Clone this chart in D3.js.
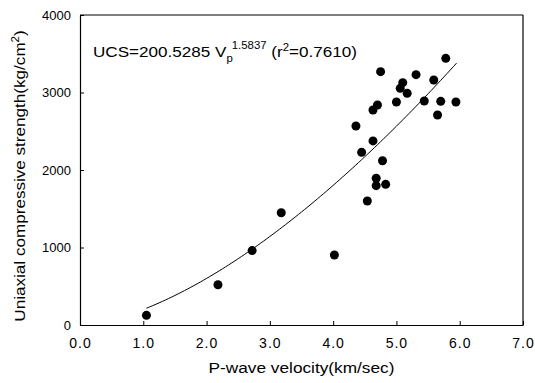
<!DOCTYPE html>
<html>
<head>
<meta charset="utf-8">
<script src="https://cdn.jsdelivr.net/npm/d3@7"></script>
<style>
  body { margin: 0; background: #fff; }
  svg text { font-family: "Liberation Sans", Arial, sans-serif; fill: #000; }
</style>
</head>
<body>
<svg id="chart"></svg>
<script>
// P-wave velocity (km/sec) and UCS (kg/cm2)
var velocity = [1.05, 2.18, 2.72, 3.18, 4.02, 4.54,
                5.78, 4.75, 5.31, 5.59, 5.10, 5.06, 5.17, 5.00, 5.44, 5.70, 5.94, 5.65,
                4.70, 4.63, 4.36, 4.63, 4.45, 4.78, 4.68, 4.68, 4.83]
var strength = [125, 520, 960, 1449, 903, 1600,
                3441, 3269, 3230, 3161, 3127, 3054, 2989, 2877, 2890, 2886, 2877, 2710,
                2839, 2774, 2568, 2375, 2228, 2120, 1893, 1798, 1815]

var xTicks = [0, 1, 2, 3, 4, 5, 6, 7]
var yTicks = [0, 1000, 2000, 3000, 4000]

// fitted curve UCS = a * Vp^b
var coefA = 200.5285
var coefB = 1.5837
var fitRange = [1.05, 5.95]

var dimensions = {
    width: 535,
    height: 383,
    margin: { top: 15, bottom: 58, right: 12, left: 80 }
}
dimensions.boundedWidth = dimensions.width - dimensions.margin.left - dimensions.margin.right
dimensions.boundedHeight = dimensions.height - dimensions.margin.top - dimensions.margin.bottom

var svg = d3.select("#chart")
    .attr("width", dimensions.width)
    .attr("height", dimensions.height)

var g = svg.append("g")
    .attr("transform", "translate(" + dimensions.margin.left + "," + dimensions.margin.top + ")")

var xScale = d3.scaleLinear()
    .domain([0, 7])
    .range([0, dimensions.boundedWidth])

var yScale = d3.scaleLinear()
    .domain([0, 4000])
    .range([dimensions.boundedHeight, 0])

// axes with inward ticks
var xAxis = g.append("g")
    .attr("transform", "translate(0," + dimensions.boundedHeight + ")")
    .call(d3.axisBottom(xScale).tickValues(xTicks).tickSizeInner(-4).tickSizeOuter(0)
        .tickPadding(10).tickFormat(d3.format(".1f")))
var yAxis = g.append("g")
    .call(d3.axisLeft(yScale).tickValues(yTicks).tickSizeInner(-4).tickSizeOuter(0)
        .tickPadding(9).tickFormat(d3.format("d")))

g.selectAll(".domain").attr("stroke", "#000").attr("stroke-width", 1.2)
g.selectAll(".tick line").attr("stroke", "#000").attr("stroke-width", 1)
g.selectAll(".tick text").style("font-size", "13px").attr("fill", "#000")
xAxis.selectAll(".tick text")
    .attr("dy", "0.9em")
    .style("font-size", "14px")
    .style("letter-spacing", "1px")

// frame top and right
g.append("line")
    .attr("x1", 0).attr("x2", dimensions.boundedWidth)
    .attr("y1", 0).attr("y2", 0)
    .attr("stroke", "#000").attr("stroke-width", 1.2)
g.append("line")
    .attr("x1", dimensions.boundedWidth).attr("x2", dimensions.boundedWidth)
    .attr("y1", 0).attr("y2", dimensions.boundedHeight)
    .attr("stroke", "#000").attr("stroke-width", 1.2)

// fitted curve
var curveData = d3.range(fitRange[0], fitRange[1] + 0.001, 0.05).map(function (v) {
    return [v, coefA * Math.pow(v, coefB)]
})
g.append("path")
    .datum(curveData)
    .attr("fill", "none")
    .attr("stroke", "#000")
    .attr("stroke-width", 1)
    .attr("d", d3.line().x(d => xScale(d[0])).y(d => yScale(d[1])))

// dots
g.append("g")
    .selectAll("circle")
    .data(velocity)
    .enter()
    .append("circle")
    .attr("cx", d => xScale(d))
    .attr("cy", (d, i) => yScale(strength[i]))
    .attr("r", 4.5)
    .attr("fill", "#000")

// equation label (font in the original is a bit wider, so stretch it)
var eq = g.append("g")
    .attr("transform", "translate(13,42) scale(1.14,1)")
    .append("text")
    .style("font-size", "15px")
eq.append("tspan").text("UCS=200.5285  V")
eq.append("tspan").text("p").style("font-size", "10px").attr("dy", 5)
eq.append("tspan").text("1.5837").style("font-size", "10px").attr("dx", -1).attr("dy", -13)
eq.append("tspan").text(" (r").attr("dy", 8)
eq.append("tspan").text("2").style("font-size", "10px").attr("dy", -6)
eq.append("tspan").text("=0.7610)").attr("dy", 6)

// axis titles
svg.append("g")
    .attr("transform", "translate(" + (dimensions.margin.left + dimensions.boundedWidth / 2) + ",373) scale(1.15,1)")
    .append("text")
    .style("text-anchor", "middle")
    .style("font-size", "15px")
    .text("P-wave velocity(km/sec)")

var yTitle = svg.append("g")
    .attr("transform", "translate(25,176) rotate(-90) scale(1.14,1)")
    .append("text")
    .style("text-anchor", "middle")
    .style("font-size", "15px")
yTitle.append("tspan").text("Uniaxial compressive strength(kg/cm")
yTitle.append("tspan").text("2").style("font-size", "10px").attr("dy", -6)
yTitle.append("tspan").text(")").attr("dy", 6)
</script>
</body>
</html>
